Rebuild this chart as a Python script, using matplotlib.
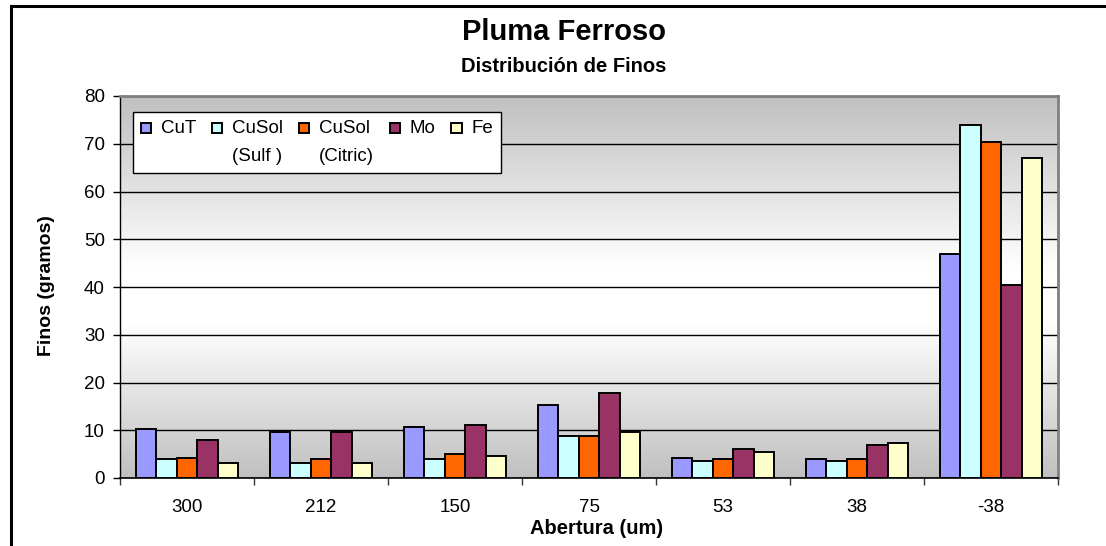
import numpy as np
import matplotlib
matplotlib.use("Agg")
import matplotlib.pyplot as plt
import matplotlib.patches as mpatches
from matplotlib.container import BarContainer
from matplotlib.legend_handler import HandlerPatch, update_from_first_child
from matplotlib.colors import LinearSegmentedColormap

# -------------------------
# Data
# -------------------------
categories = ["300", "212", "150", "75", "53", "38", "-38"]
series_names = ["CuT", "CuSol\n(Sulf )", "CuSol\n(Citric)", "Mo", "Fe"]
cut = [10.3, 9.6, 10.7, 15.3, 4.2, 3.9, 46.9]
cusol_sulf = [3.9, 3.1, 3.9, 8.8, 3.5, 3.5, 73.9]
cusol_citric = [4.2, 3.9, 5.0, 8.8, 3.9, 3.9, 70.4]
mo = [8.0, 9.6, 11.1, 17.9, 6.1, 6.9, 40.4]
fe = [3.1, 3.1, 4.6, 9.6, 5.4, 7.3, 67.1]
colors = ["#9999FF", "#CCFFFF", "#FF6600", "#993366", "#FFFFCC"]

plt.rcParams['font.family'] = ['Liberation Sans', 'DejaVu Sans']

fig = plt.figure(figsize=(11.06, 5.46), dpi=100)
ax = fig.add_axes([120 / 1106, 1 - 478 / 546, 938 / 1106, 382 / 546])

# chart frame (cut off at right/bottom like the original)
fig.patches.append(mpatches.Rectangle((11 / 1106, -0.05), 1.2, 1 - 6.5 / 546 + 0.05,
                                      transform=fig.transFigure, fill=False,
                                      edgecolor="black", linewidth=2.2, zorder=0))

# -------------------------
# Background gradient (gray - white - gray)
# -------------------------
cmap = LinearSegmentedColormap.from_list("bg", [(0, "#C0C0C0"), (0.45, "#FFFFFF"),
                                               (0.6, "#FFFFFF"), (1, "#C0C0C0")])
grad = np.linspace(0, 1, 256).reshape(-1, 1)
ax.imshow(grad, cmap=cmap, aspect="auto", extent=[0, 1, 0, 1],
          transform=ax.transAxes, zorder=0, interpolation="bicubic")

# -------------------------
# Bars
# -------------------------
all_series = [cut, cusol_sulf, cusol_citric, mo, fe]
x = np.arange(len(categories))
width = 0.153
for i, (vals, name, c) in enumerate(zip(all_series, series_names, colors)):
    offs = (i - 2) * width
    ax.bar(x + offs, vals, width, color=c, edgecolor="black", linewidth=1.4,
           label=name, zorder=3)

ax.set_xlim(-0.5, len(categories) - 0.5)
ax.set_ylim(0, 80)
ax.set_yticks(np.arange(0, 81, 10))
ax.yaxis.grid(True, color="black", linewidth=1.0, zorder=1)
ax.set_axisbelow(True)

ax.set_xticks(x)
ax.set_xticklabels(categories)
ax.set_xticks(np.arange(-0.5, len(categories), 1), minor=True)
ax.tick_params(axis="x", which="major", length=0, pad=15, labelsize=13.5)
ax.tick_params(axis="x", which="minor", length=5, width=1, color="#333333")
ax.tick_params(axis="y", length=5, width=1, labelsize=13.5, pad=6)

for s in ["top", "right"]:
    ax.spines[s].set_color("#808080")
    ax.spines[s].set_linewidth(2)
ax.spines["left"].set_color("black")
ax.spines["bottom"].set_color("black")
ax.spines["left"].set_linewidth(1)
ax.spines["bottom"].set_linewidth(1.2)

ax.set_xlabel("Abertura (um)", fontsize=14.5, fontweight="bold")
ax.set_ylabel("Finos (gramos)", fontsize=14, fontweight="bold")
ax.xaxis.set_label_coords(0.5085, -0.108)
ax.yaxis.set_label_coords(-0.069, 0.504)

fig.text(0.51, 1 - 32 / 546, "Pluma Ferroso", ha="center", va="center",
         fontsize=21, fontweight="bold")
fig.text(0.51, 1 - 66 / 546, "Distribución de Finos", ha="center", va="center",
         fontsize=14.5, fontweight="bold")


# -------------------------
# Legend: small boxes next to the first line of each label
# -------------------------
LEG_LS = 1.85


class TopBox(HandlerPatch):
    def create_artists(self, legend, orig_handle, xdescent, ydescent,
                       width, height, fontsize, trans):
        s = 0.55 * fontsize
        y0 = 0.5 * 0.795 * LEG_LS * fontsize + 0.105 * fontsize
        p = mpatches.Rectangle((-xdescent, y0), s, s)
        self.update_prop(p, orig_handle, legend)
        p.set_transform(trans)
        return [p]


handles, labels = ax.get_legend_handles_labels()
labels = [l if "\n" in l else l + "\n " for l in labels]
leg = ax.legend(handles, labels, ncol=5, loc="upper left",
                bbox_to_anchor=(13 / 938, 0.958), borderaxespad=0,
                fontsize=13.5, frameon=True, fancybox=False, framealpha=1,
                edgecolor="black", handlelength=0.53, handletextpad=0.53,
                columnspacing=0.85, borderpad=0.42,
                handler_map={BarContainer: TopBox(update_func=update_from_first_child)})
leg.get_frame().set_linewidth(1)
for t in leg.get_texts():
    t.set_linespacing(LEG_LS)

fig.savefig("out.png", dpi=100)
